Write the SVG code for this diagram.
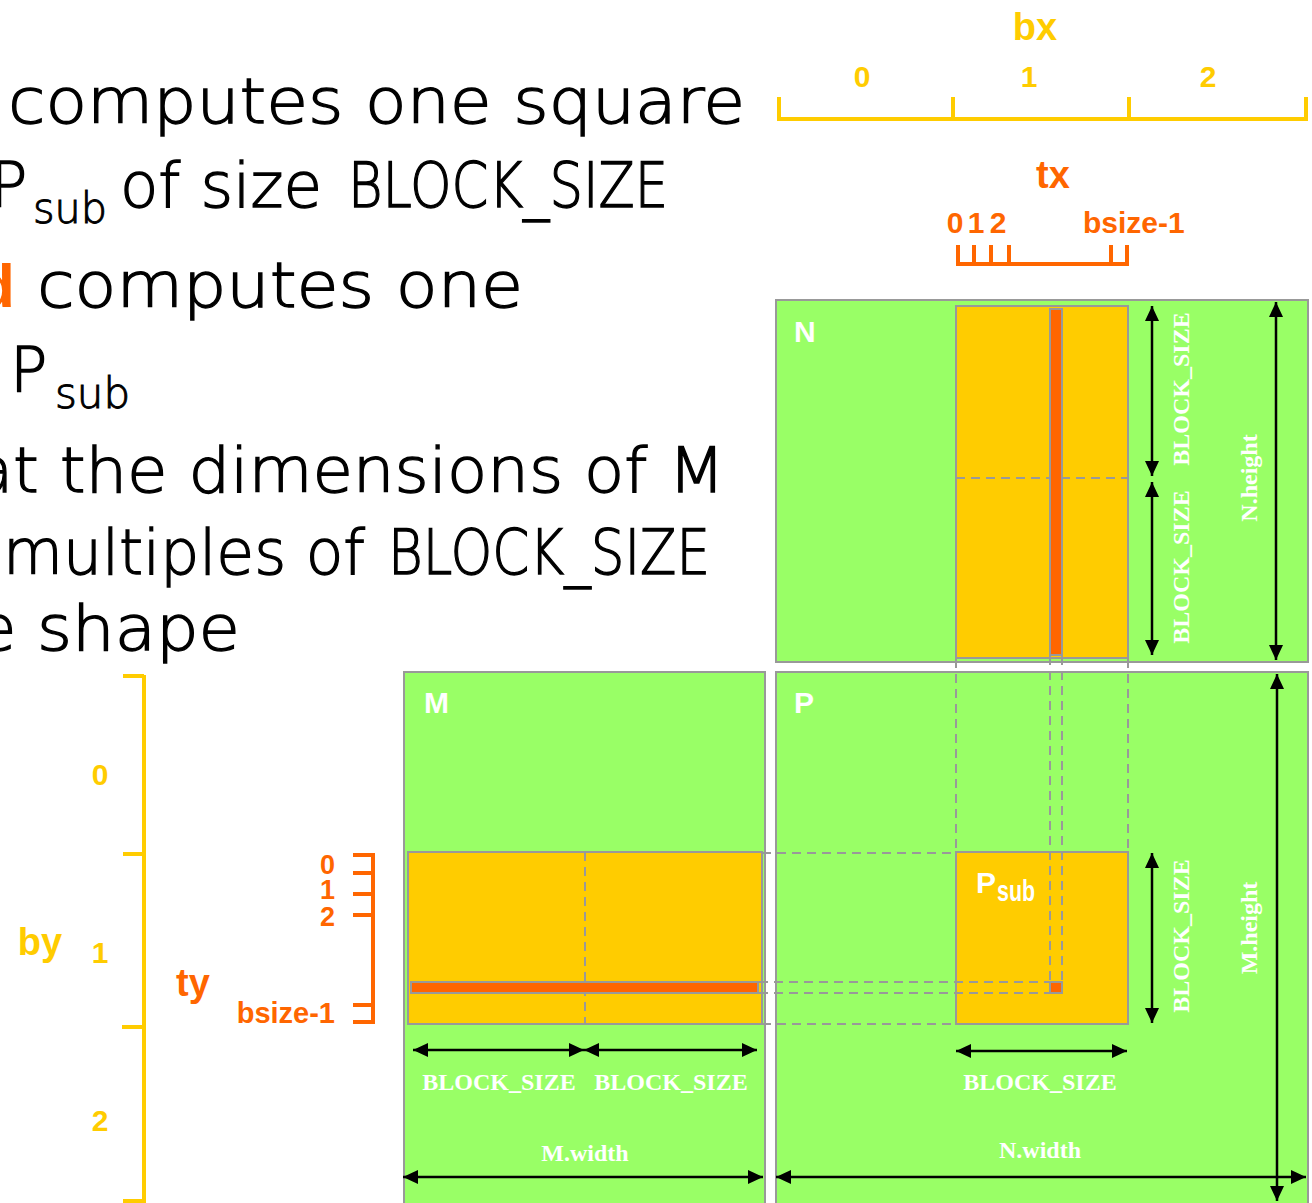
<svg xmlns="http://www.w3.org/2000/svg" width="1312" height="1203" viewBox="0 0 1312 1203">
<defs>
<marker id="ah" markerUnits="userSpaceOnUse" markerWidth="16" markerHeight="16" refX="15" refY="7" orient="auto-start-reverse">
<path d="M0,0 L15,7 L0,14 z" fill="#000"/>
</marker>
<style>
.big{font-family:"DejaVu Sans","Liberation Sans",sans-serif;font-weight:200;font-size:62px;fill:#000;stroke:#000;stroke-width:1.3}
.bsub{font-family:"DejaVu Sans","Liberation Sans",sans-serif;font-weight:200;font-size:42px;fill:#000;stroke:#000;stroke-width:1}
.mat{fill:#99FF66;stroke:#999;stroke-width:2}
.blk{fill:#FFCC00;stroke:#999;stroke-width:2}
.row{fill:#FF6600;stroke:#999;stroke-width:2}
.dash{fill:none;stroke:#999;stroke-width:2;stroke-dasharray:9 6}
.arr{fill:none;stroke:#000;stroke-width:2.5;marker-start:url(#ah);marker-end:url(#ah)}
.lbl{font-family:"Liberation Serif","Times New Roman",serif;font-weight:bold;font-size:24px;fill:#fff;text-anchor:middle}
.mlbl{font-family:"Liberation Sans",Arial,sans-serif;font-weight:bold;font-size:30px;fill:#fff}
.yax{fill:none;stroke:#FFCC00;stroke-width:4}
.oax{fill:none;stroke:#FF6600;stroke-width:4}
.yt{font-family:"Liberation Sans",Arial,sans-serif;font-weight:bold;fill:#FFCC00;text-anchor:middle}
.ot{font-family:"Liberation Sans",Arial,sans-serif;font-weight:bold;fill:#FF6600}
</style>
</defs>
<rect width="1312" height="1203" fill="#fff"/>

<g id="text">
<text class="big" x="8" y="123" textLength="737" lengthAdjust="spacingAndGlyphs">computes one square</text>
<text class="big" x="-10" y="207">P</text>
<text class="bsub" x="33" y="223" textLength="74" lengthAdjust="spacingAndGlyphs">sub</text>
<text class="big" x="120" y="207" textLength="202" lengthAdjust="spacingAndGlyphs">of size</text>
<text class="big" x="348" y="207" textLength="320" lengthAdjust="spacingAndGlyphs">BLOCK_SIZE</text>
<text x="-23" y="307" style="fill:#FF6600;font-weight:bold;font-size:62px;font-family:'Liberation Sans',sans-serif">d</text>
<text class="big" x="37" y="307" textLength="486" lengthAdjust="spacingAndGlyphs">computes one</text>
<text class="big" x="10" y="392">P</text>
<text class="bsub" x="55" y="408" textLength="75" lengthAdjust="spacingAndGlyphs">sub</text>
<text class="big" x="-25" y="492">a</text>
<text class="big" x="13" y="492" textLength="712" lengthAdjust="spacingAndGlyphs">t the dimensions of M</text>
<text class="big" x="3" y="574" textLength="362" lengthAdjust="spacingAndGlyphs">multiples of</text>
<text class="big" x="388" y="574" textLength="322" lengthAdjust="spacingAndGlyphs">BLOCK_SIZE</text>
<text class="big" x="-22" y="650">e</text>
<text class="big" x="37" y="650" textLength="203" lengthAdjust="spacingAndGlyphs">shape</text>
</g>

<g id="bx-axis">
<path class="yax" d="M779,97 V119 M953,97 V119 M1129,97 V119 M1306,97 V119 M777,119 H1308"/>
<text class="yt" x="1035" y="40" font-size="38">bx</text>
<text class="yt" x="862" y="87" font-size="30">0</text>
<text class="yt" x="1029" y="87" font-size="30">1</text>
<text class="yt" x="1208" y="87" font-size="30">2</text>
</g>

<g id="tx-axis">
<path class="oax" d="M958,245 V264 M974,245 V264 M991,245 V264 M1009,245 V264 M1111,245 V264 M1127,245 V264 M956,264 H1129"/>
<text class="ot" x="1053" y="188" font-size="38" text-anchor="middle">tx</text>
<text class="ot" x="955" y="233" font-size="30" text-anchor="middle">0</text>
<text class="ot" x="976" y="233" font-size="30" text-anchor="middle">1</text>
<text class="ot" x="998" y="233" font-size="30" text-anchor="middle">2</text>
<text class="ot" x="1083" y="233" font-size="30">bsize-1</text>
</g>

<g id="by-axis">
<path class="yax" d="M144,675 V1203 M123,676 H144 M123,854 H144 M122,1027 H144 M123,1201 H144"/>
<text class="yt" x="40" y="955" font-size="38">by</text>
<text class="yt" x="100" y="785" font-size="30">0</text>
<text class="yt" x="100" y="963" font-size="30">1</text>
<text class="yt" x="100" y="1131" font-size="30">2</text>
</g>

<g id="ty-axis">
<path class="oax" d="M373,853 V1024 M353,855 H373 M353,873 H373 M353,894 H373 M353,915 H373 M353,1005 H373 M353,1022 H373"/>
<text class="ot" x="193" y="996" font-size="38" text-anchor="middle">ty</text>
<text class="ot" x="335" y="874" font-size="27" text-anchor="end">0</text>
<text class="ot" x="335" y="899" font-size="27" text-anchor="end">1</text>
<text class="ot" x="335" y="926" font-size="27" text-anchor="end">2</text>
<text class="ot" x="335" y="1023" font-size="29" text-anchor="end">bsize-1</text>
</g>

<g id="N">
<rect class="mat" x="776" y="300" width="532" height="362"/>
<text class="mlbl" x="794" y="342">N</text>
<rect class="blk" x="956" y="306" width="172" height="352"/>
<line class="dash" x1="956" y1="478" x2="1128" y2="478"/>
<rect class="row" x="1050" y="309" width="12" height="346"/>
</g>

<g id="M">
<rect class="mat" x="404" y="672" width="361" height="540"/>
<text class="mlbl" x="424" y="713">M</text>
<rect class="blk" x="408" y="852" width="354" height="172"/>
<line class="dash" x1="585" y1="852" x2="585" y2="1024"/>
<rect class="row" x="411" y="982" width="347" height="11"/>
</g>

<g id="P">
<rect class="mat" x="776" y="672" width="532" height="540"/>
<text class="mlbl" x="794" y="713">P</text>
<rect class="blk" x="956" y="852" width="172" height="172"/>
<text class="mlbl" x="976" y="893">P</text>
<text class="mlbl" x="997" y="901" font-size="20" textLength="38" lengthAdjust="spacingAndGlyphs">sub</text>
<rect class="row" x="1050" y="982" width="12" height="11"/>
</g>

<g id="connectors">
<path class="dash" d="M956,659 V852 M1128,659 V852 M1050,656 V982 M1062,656 V982"/>
<path class="dash" d="M762,853 H956 M762,1024 H956 M759,982 H1050 M759,993 H1050"/>
<line class="arr" x1="1152" y1="306" x2="1152" y2="476"/>
<line class="arr" x1="1152" y1="482" x2="1152" y2="655"/>
<line class="arr" x1="1276" y1="302" x2="1276" y2="660"/>
<line class="arr" x1="1152" y1="853" x2="1152" y2="1023"/>
<line class="arr" x1="1277" y1="674" x2="1277" y2="1201"/>
<line class="arr" x1="956" y1="1051" x2="1127" y2="1051"/>
<line class="arr" x1="776" y1="1177" x2="1306" y2="1177"/>
<line class="arr" x1="413" y1="1050" x2="584" y2="1050"/>
<line class="arr" x1="584" y1="1050" x2="757" y2="1050"/>
<line class="arr" x1="403" y1="1177" x2="763" y2="1177"/>
</g>

<g id="labels">
<text class="lbl" transform="translate(1189,389) rotate(-90)">BLOCK_SIZE</text>
<text class="lbl" transform="translate(1189,567) rotate(-90)">BLOCK_SIZE</text>
<text class="lbl" transform="translate(1257,478) rotate(-90)">N.height</text>
<text class="lbl" transform="translate(1189,936) rotate(-90)">BLOCK_SIZE</text>
<text class="lbl" transform="translate(1257,928) rotate(-90)">M.height</text>
<text class="lbl" x="1040" y="1090">BLOCK_SIZE</text>
<text class="lbl" x="1040" y="1158">N.width</text>
<text class="lbl" x="499" y="1090">BLOCK_SIZE</text>
<text class="lbl" x="671" y="1090">BLOCK_SIZE</text>
<text class="lbl" x="585" y="1161">M.width</text>
</g>
</svg>
